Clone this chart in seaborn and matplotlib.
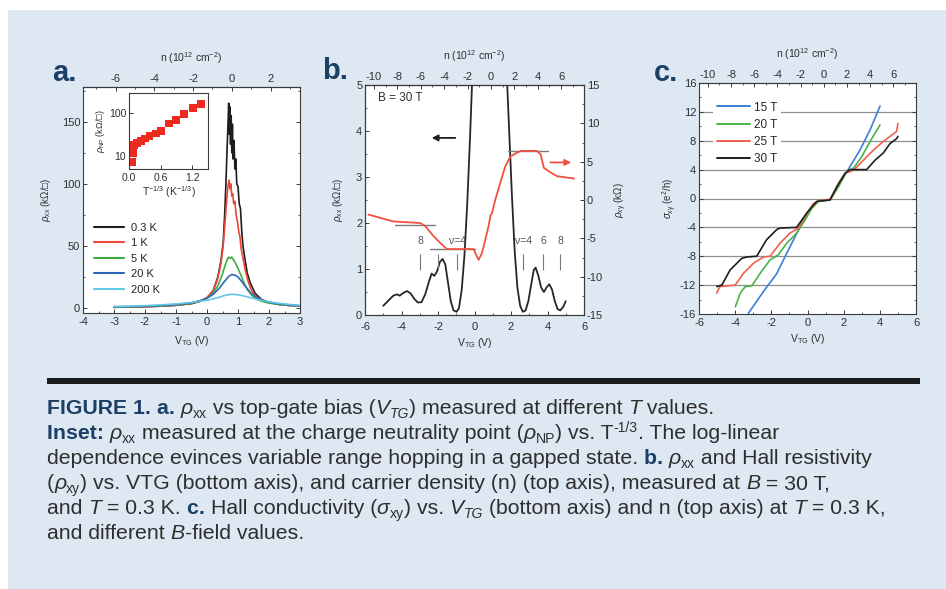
import numpy as np
import pandas as pd
import matplotlib
matplotlib.use("Agg")
import matplotlib.pyplot as plt
import seaborn as sns
from matplotlib.patches import Rectangle
from matplotlib.lines import Line2D
from matplotlib.ticker import MultipleLocator, FixedLocator
from matplotlib.font_manager import FontProperties

# ---------------- data ----------------
# (a) rho_xx (kOhm/sq) vs top-gate voltage at several temperatures
a_labels = ["0.3 K", "1 K", "5 K", "20 K", "200 K"]
a_v_03 = [-3.0, -2.5, -2.0, -1.5, -1.0, -0.5, -0.2, 0.0, 0.2, 0.35, 0.45, 0.52, 0.57, 0.61, 0.65, 0.68,
          0.70, 0.72, 0.74, 0.76, 0.78, 0.80, 0.82, 0.84, 0.87, 0.90, 0.93, 0.96, 1.00, 1.04, 1.08, 1.12,
          1.16, 1.22, 1.30, 1.40, 1.55, 1.75, 2.0, 2.3, 2.6, 3.0]
a_r_03 = [0.6, 0.8, 1.1, 1.5, 2.2, 3.5, 5.5, 8, 14, 25, 38, 52, 75, 100, 130, 150,
          165, 140, 162, 132, 155, 125, 148, 120, 135, 112, 120, 100, 98, 84, 80, 62,
          50, 40, 28, 20, 12, 7, 4.5, 3.0, 2.2, 1.6]
a_v_1 = [-3.0, -2.5, -2.0, -1.5, -1.0, -0.5, -0.2, 0.0, 0.2, 0.35, 0.45, 0.52, 0.58, 0.63, 0.67, 0.71,
         0.74, 0.77, 0.80, 0.83, 0.86, 0.90, 0.94, 0.98, 1.02, 1.06, 1.10, 1.16, 1.24, 1.32, 1.42, 1.55,
         1.75, 2.0, 2.3, 2.6, 3.0]
a_r_1 = [0.6, 0.8, 1.1, 1.5, 2.3, 3.8, 6, 8.5, 14, 24, 36, 50, 68, 85, 97, 103,
         96, 100, 90, 92, 84, 86, 75, 70, 62, 58, 48, 40, 30, 22, 15, 10,
         6.5, 4.5, 3.0, 2.2, 1.6]
a_v_5 = [-3.0, -2.5, -2.0, -1.5, -1.0, -0.5, -0.2, 0.0, 0.2, 0.35, 0.48, 0.58, 0.65, 0.70, 0.75, 0.80,
         0.85, 0.90, 1.0, 1.1, 1.2, 1.3, 1.45, 1.65, 1.9, 2.2, 2.6, 3.0]
a_r_5 = [0.8, 1.0, 1.3, 1.7, 2.5, 4.0, 6.0, 8.0, 12, 18, 26, 34, 39, 41, 40, 41,
         39, 37, 32, 26, 20, 15, 10, 6.5, 4.5, 3.2, 2.3, 1.7]
a_v_20 = [-3.0, -2.5, -2.0, -1.5, -1.0, -0.5, -0.2, 0.0, 0.2, 0.4, 0.55, 0.7, 0.8, 0.9, 1.0, 1.1,
          1.25, 1.4, 1.6, 1.8, 2.1, 2.5, 3.0]
a_r_20 = [1.0, 1.2, 1.5, 2.0, 2.8, 4.2, 6.0, 8.0, 11, 16, 21, 25.5, 27, 26.5, 25, 22,
          17, 12.5, 8.5, 6.0, 4.2, 2.8, 1.8]
a_v_200 = [-3.0, -2.5, -2.0, -1.5, -1.0, -0.5, 0.0, 0.3, 0.55, 0.75, 0.9, 1.1, 1.3, 1.6, 1.9, 2.2,
           2.6, 3.0]
a_r_200 = [1.2, 1.5, 1.9, 2.5, 3.3, 4.5, 6.3, 8.0, 10, 11, 11, 10.2, 9.0, 7.0, 5.5, 4.2,
           3.0, 2.2]

# inset: rho at the neutrality point vs T^(-1/3)
inset_x = [0.05, 0.07, 0.10, 0.15, 0.22, 0.30, 0.39, 0.51, 0.61, 0.76, 0.90, 1.04, 1.22, 1.37]
inset_y = [7.4, 11.9, 18, 20, 22.6, 25.6, 29, 33.3, 38.4, 56.8, 70, 96, 133, 164]

# (b) B = 30 T, rho_xx (left axis) and rho_xy (right axis)
b_v_xx_left = [-5.0, -4.7, -4.45, -4.25, -4.1, -3.9, -3.7, -3.5, -3.3, -3.1, -2.9, -2.7, -2.5, -2.35,
               -2.2, -2.05, -1.9, -1.75, -1.6, -1.45, -1.3, -1.15, -0.98, -0.85, -0.7, -0.55, -0.4,
               -0.25, -0.1]
b_r_xx_left = [0.2, 0.32, 0.42, 0.45, 0.42, 0.48, 0.52, 0.47, 0.35, 0.27, 0.28, 0.45, 0.72, 0.9,
               0.85, 0.95, 1.15, 1.22, 1.1, 0.7, 0.3, 0.1, 0.07, 0.15, 0.55, 1.3, 2.4,
               3.8, 5.4]
b_v_xx_right = [1.75, 1.9, 2.05, 2.2, 2.35, 2.5, 2.65, 2.8, 2.95, 3.1, 3.25, 3.35, 3.5, 3.65, 3.8,
                3.95, 4.1, 4.25, 4.4, 4.55, 4.7, 4.85, 5.0]
b_r_xx_right = [5.4, 4.0, 2.6, 1.4, 0.6, 0.2, 0.07, 0.1, 0.3, 0.65, 0.98, 1.03, 0.85, 0.6, 0.5,
                0.6, 0.67, 0.55, 0.3, 0.13, 0.1, 0.17, 0.3]
b_v_xy = [-5.82, -4.44, -2.98, -2.70, -2.25, -1.88, -1.51, -0.05, 0.14, 0.23, 0.41, 0.59, 0.77,
          0.88, 0.96, 1.14, 1.42, 1.69, 1.97, 2.52, 3.43, 3.62, 3.80, 4.16, 4.53, 5.45]
b_r_xy = [-1.9, -2.8, -3.0, -3.4, -4.7, -5.6, -6.4, -6.4, -7.4, -7.8, -6.9, -5.2, -3.4,
          -2.0, -1.7, 0.06, 2.3, 4.4, 5.7, 6.4, 6.4, 5.96, 4.2, 3.6, 3.1, 2.8]
# quantized Hall plateaus h/(nu e^2) in kOhm, with their V_TG spans
b_plateau_val = [-3.23, -6.45, 6.45]
b_plateau_v0 = [-4.35, -2.43, 1.86]
b_plateau_v1 = [-2.15, 0.04, 4.05]
# filling-factor markers
b_nu_v = [-2.98, -1.99, -0.95, 2.68, 3.78, 4.71]
b_nu_text = ["8", "ν=4", "ν=4", "6", "8"]
b_nu_text_v = [-2.98, -0.95, 2.68, 3.78, 4.71]

# (c) Hall conductivity (e^2/h) vs top-gate voltage at several fields
c_labels = ["15 T", "20 T", "25 T", "30 T"]
c_v_15 = [-3.27, -2.44, -1.70, -1.15, -0.41, 0.23, 0.69, 1.25, 1.62, 2.17, 2.90, 3.46, 4.01]
c_s_15 = [-15.9, -12.9, -10.4, -7.6, -3.9, -1.1, -0.3, -0.2, 1.6, 3.7, 6.7, 9.5, 12.8]
c_v_20 = [-3.99, -3.72, -3.44, -3.08, -2.63, -2.07, -1.61, -1.15, -0.60, -0.14, 0.23, 0.60, 1.25,
          1.71, 2.17, 2.54, 3.00, 3.46, 4.01]
c_s_20 = [-15.0, -13.1, -12.2, -12.1, -10.4, -8.5, -7.8, -6.2, -4.8, -3.0, -1.4, -0.4, -0.2,
          1.6, 3.7, 4.2, 5.8, 7.9, 10.2]
c_v_25 = [-5.02, -4.84, -4.00, -3.55, -3.00, -2.44, -2.07, -1.52, -0.97, -0.51, -0.14, 0.32, 0.69,
          1.25, 1.71, 2.08, 2.54, 3.09, 3.64, 4.19, 4.93, 5.00]
c_s_25 = [-13.1, -12.2, -12.0, -10.4, -9.0, -8.1, -8.0, -6.2, -4.8, -4.1, -2.5, -0.7, -0.3,
          -0.1, 2.1, 3.5, 3.9, 5.3, 6.7, 7.9, 9.3, 10.4]
c_v_30 = [-5.02, -4.74, -4.28, -3.64, -3.36, -2.81, -2.26, -1.70, -1.52, -0.60, -0.04, 0.51, 1.25,
          1.62, 2.08, 2.35, 3.27, 3.73, 4.19, 4.56, 4.93, 5.00]
c_s_30 = [-12.2, -12.0, -9.9, -8.3, -8.1, -8.0, -5.7, -4.3, -4.1, -4.0, -2.0, -0.4, -0.2,
          1.6, 3.5, 4.0, 4.0, 5.3, 6.3, 7.6, 8.3, 8.6]
c_plateaus = [-12, -8, -4, 0, 4, 8, 12]

# ---------------- style ----------------
sns.set_theme(style="ticks")
plt.rcParams["font.family"] = ["Liberation Sans", "DejaVu Sans"]
plt.rcParams["mathtext.fontset"] = "custom"
plt.rcParams["mathtext.rm"] = "Liberation Sans"
plt.rcParams["mathtext.it"] = "Liberation Sans:italic"
plt.rcParams["mathtext.bf"] = "Liberation Sans:bold"
plt.rcParams["axes.unicode_minus"] = False

W, H = 946, 589
BG = "#dde8f3"
FRAME = "#3a3a3a"
TXT = "#2e2e2e"
NAVY = "#1c3f66"
CAPTXT = "#2e2e2e"
TICK_FS = 8
LAB_FS = 7.5

a_colors = ["#1e1e1e", "#f0463a", "#3dab3f", "#2f68b8", "#62c6e6"]
c_colors = ["#3b7fd6", "#47b347", "#f0604f", "#1e1e1e"]


def fx(px):
    return px / W


def fy(py):
    return 1 - py / H


def box(l, t, r, b):
    return [fx(l), fy(b), fx(r) - fx(l), fy(t) - fy(b)]


def style_axes(ax):
    for s in ax.spines.values():
        s.set_color(FRAME)
        s.set_linewidth(0.8)
    ax.tick_params(which="major", direction="in", length=3, width=0.7, colors=FRAME,
                   labelcolor=TXT, labelsize=TICK_FS, pad=2)
    ax.tick_params(which="minor", direction="in", length=1.7, width=0.6, colors=FRAME)
    ax.tick_params(axis="x", which="major", pad=3)


def v2n(v):
    return 1.56 * (np.asarray(v) - 0.9)


def n2v(n):
    return np.asarray(n) / 1.56 + 0.9


def v2n_a(v):
    return 1.6 * (np.asarray(v) - 0.8)


def n2v_a(n):
    return np.asarray(n) / 1.6 + 0.8


def top_axis(ax, fwd, inv, ticks):
    sec = ax.secondary_xaxis("top", functions=(fwd, inv))
    sec.xaxis.set_major_locator(FixedLocator(ticks))
    sec.xaxis.set_minor_locator(MultipleLocator(1))
    sec.tick_params(which="major", direction="in", length=3, width=0.7, colors=FRAME,
                    labelcolor=TXT, labelsize=TICK_FS, pad=2)
    sec.tick_params(which="minor", direction="in", length=1.7, width=0.6, colors=FRAME)
    sec.spines["top"].set_color(FRAME)
    sec.spines["top"].set_linewidth(0.8)
    sec.set_xlabel(r"n (10$^{12}$ cm$^{-2}$)", fontsize=LAB_FS, color=TXT, labelpad=9)
    return sec


fig = plt.figure(figsize=(W / 100, H / 100), dpi=100, facecolor="white")
fig.patches.append(Rectangle((fx(8), 0), 1 - fx(8), fy(10), transform=fig.transFigure,
                             facecolor=BG, edgecolor="none", zorder=-10))

# ---------------- panel a ----------------
axa = fig.add_axes(box(83, 87, 300, 313))
df_a = pd.concat([
    pd.DataFrame({"V": v, "rho": r, "T": lab})
    for v, r, lab in zip([a_v_03, a_v_1, a_v_5, a_v_20, a_v_200],
                         [a_r_03, a_r_1, a_r_5, a_r_20, a_r_200], a_labels)
])
sns.lineplot(data=df_a, x="V", y="rho", hue="T", hue_order=a_labels, palette=a_colors,
             estimator=None, sort=False, linewidth=1.2, legend=False, ax=axa)
axa.set_xlim(-4, 3)
axa.set_ylim(-4, 178)
axa.xaxis.set_major_locator(MultipleLocator(1))
axa.xaxis.set_minor_locator(MultipleLocator(0.5))
axa.yaxis.set_major_locator(FixedLocator([0, 50, 100, 150]))
axa.yaxis.set_minor_locator(MultipleLocator(25))
axa.tick_params(right=True, which="both")
style_axes(axa)
axa.set_xlabel(r"V$_{\mathrm{TG}}$ (V)", fontsize=LAB_FS, color=TXT, labelpad=5)
axa.set_ylabel(r"$\rho_{\mathrm{xx}}$ (kΩ/□)", fontsize=7, color=TXT, labelpad=6)
top_axis(axa, v2n_a, n2v_a, [-6, -4, -2, 0, 2])
handles_a = [Line2D([], [], color=c, lw=1.5) for c in a_colors]
axa.legend(handles_a, a_labels, loc="upper left", bbox_to_anchor=(0.035, 0.415), frameon=False,
           fontsize=8, handlelength=2.7, handletextpad=0.6, labelspacing=0.5,
           borderaxespad=0, borderpad=0.3)

# inset
axi = fig.add_axes(box(129, 93, 208, 169))
df_i = pd.DataFrame({"x": inset_x, "y": inset_y})
sns.scatterplot(data=df_i, x="x", y="y", marker="s", s=32, color="#ee2a1e", edgecolor="none",
                ax=axi, legend=False)
axi.set_yscale("log")
axi.set_xlim(0.0, 1.5)
axi.set_ylim(5, 290)
axi.xaxis.set_major_locator(FixedLocator([0.0, 0.6, 1.2]))
axi.xaxis.set_major_formatter(plt.FuncFormatter(lambda v, p: f"{v:.1f}"))
axi.yaxis.set_major_locator(FixedLocator([10, 100]))
axi.yaxis.set_major_formatter(plt.FuncFormatter(lambda v, p: f"{v:.0f}"))
axi.yaxis.set_minor_locator(plt.NullLocator())
style_axes(axi)
axi.tick_params(labelsize=7.5)
axi.set_xlabel(r"T$^{-1/3}$ (K$^{-1/3}$)", fontsize=7.5, color=TXT, labelpad=1)
axi.set_ylabel(r"$\rho_{\mathrm{NP}}$ (kΩ/□)", fontsize=6.5, color=TXT, labelpad=1)

# ---------------- panel b ----------------
axb = fig.add_axes(box(365, 85, 584, 315))
df_bxx = pd.concat([
    pd.DataFrame({"V": b_v_xx_left, "rho": b_r_xx_left, "seg": 0}),
    pd.DataFrame({"V": b_v_xx_right, "rho": b_r_xx_right, "seg": 1}),
])
sns.lineplot(data=df_bxx, x="V", y="rho", units="seg", estimator=None, sort=False,
             color="#262626", linewidth=1.3, ax=axb)
axb.set_xlim(-6, 6)
axb.set_ylim(0, 5)
axb.xaxis.set_major_locator(MultipleLocator(2))
axb.xaxis.set_minor_locator(MultipleLocator(1))
axb.yaxis.set_major_locator(MultipleLocator(1))
axb.yaxis.set_minor_locator(MultipleLocator(0.5))
style_axes(axb)
axb.tick_params(axis="x", which="major", pad=5)
axb.set_xlabel(r"V$_{\mathrm{TG}}$ (V)", fontsize=LAB_FS, color=TXT, labelpad=3)
axb.set_ylabel(r"$\rho_{\mathrm{xx}}$ (kΩ/□)", fontsize=7, color=TXT, labelpad=8)
top_axis(axb, v2n, n2v, [-10, -8, -6, -4, -2, 0, 2, 4, 6])
axb.text(-5.3, 4.72, "B = 30 T", fontsize=8.5, color=TXT, va="center")
axb.annotate("", xy=(-2.5, 3.85), xytext=(-0.9, 3.85),
             arrowprops=dict(arrowstyle="-|>", color="#1e1e1e", lw=1.3, mutation_scale=9))
axb.vlines(b_nu_v, 0.98, 1.32, color="#7a7a7a", lw=0.8)
for v, t in zip(b_nu_text_v, b_nu_text):
    axb.text(v, 1.6, t, fontsize=7.5, color="#555555", ha="center", va="center")

axb2 = axb.twinx()
for v0, v1, val in zip(b_plateau_v0, b_plateau_v1, b_plateau_val):
    axb2.plot([v0, v1], [val, val], color="#7a7a7a", lw=1.0, zorder=1)
df_bxy = pd.DataFrame({"V": b_v_xy, "rho": b_r_xy})
sns.lineplot(data=df_bxy, x="V", y="rho", estimator=None, sort=False, color="#f2503f",
             linewidth=1.3, ax=axb2, zorder=3)
axb2.set_ylim(-15, 15)
axb2.yaxis.set_major_locator(MultipleLocator(5))
axb2.yaxis.set_minor_locator(MultipleLocator(2.5))
style_axes(axb2)
axb2.set_ylabel(r"$\rho_{\mathrm{xy}}$ (kΩ)", fontsize=7, color=TXT, labelpad=7)
axb2.annotate("", xy=(5.45, 4.9), xytext=(4.0, 4.9),
              arrowprops=dict(arrowstyle="-|>", color="#f2503f", lw=1.3, mutation_scale=9))

# ---------------- panel c ----------------
axc = fig.add_axes(box(699, 83, 916, 314))
for p in c_plateaus:
    axc.axhline(p, color="#8e8e8e", lw=0.9, zorder=0.5)
df_c = pd.concat([
    pd.DataFrame({"V": v, "sigma": s, "B": lab})
    for v, s, lab in zip([c_v_15, c_v_20, c_v_25, c_v_30],
                         [c_s_15, c_s_20, c_s_25, c_s_30], c_labels)
])
sns.lineplot(data=df_c, x="V", y="sigma", hue="B", hue_order=c_labels, palette=c_colors,
             estimator=None, sort=False, linewidth=1.2, legend=False, ax=axc, zorder=3)
axc.set_xlim(-6, 6)
axc.set_ylim(-16, 16)
axc.xaxis.set_major_locator(MultipleLocator(2))
axc.xaxis.set_minor_locator(MultipleLocator(1))
axc.yaxis.set_major_locator(MultipleLocator(4))
axc.yaxis.set_minor_locator(MultipleLocator(2))
axc.tick_params(right=True, which="both")
style_axes(axc)
axc.set_xlabel(r"V$_{\mathrm{TG}}$ (V)", fontsize=LAB_FS, color=TXT, labelpad=3)
axc.set_ylabel(r"$\sigma_{\mathrm{xy}}$ (e$^2$/h)", fontsize=7, color=TXT, labelpad=1)
top_axis(axc, v2n, n2v, [-10, -8, -6, -4, -2, 0, 2, 4, 6])
handles_c = [Line2D([], [], color=c, lw=1.4) for c in c_colors]
leg_c = axc.legend(handles_c, c_labels, loc="upper left", bbox_to_anchor=(0.065, 0.935),
                   frameon=True, facecolor="white", edgecolor="none", framealpha=1,
                   fontsize=8.5, handlelength=2.8, handletextpad=0.4, labelspacing=0.45,
                   borderaxespad=0, borderpad=0.3)
leg_c.set_zorder(2)

# panel letters
for letter, x, y in [("a.", 52, 81), ("b.", 322, 79), ("c.", 654, 81)]:
    fig.text(fx(x), fy(y), letter, fontsize=21, fontweight="bold", color=NAVY,
             ha="left", va="baseline")

# separator bar
fig.patches.append(Rectangle((fx(47), fy(384)), fx(920) - fx(47), fy(378) - fy(384),
                             transform=fig.transFigure, facecolor="#1b1b1b",
                             edgecolor="none"))

# ---------------- caption ----------------
CAP_FS = 15.3
cap_lines = [
    [("FIGURE 1. ", "b"), ("a. ", "b"), ("ρ", "i"), ("xx", "s"), (" vs top-gate bias (", "r"),
     ("V", "i"), ("TG", "si"), (") measured at different ", "r"), ("T", "i"), (" values.", "r")],
    [("Inset: ", "b"), ("ρ", "i"), ("xx", "s"),
     (" measured at the charge neutrality point (", "r"), ("ρ", "i"), ("NP", "s"),
     (") vs. T", "r"), ("-1/3", "p"), (". The log-linear", "r")],
    [("dependence evinces variable range hopping in a gapped state. ", "r"), ("b. ", "b"),
     ("ρ", "i"), ("xx", "s"), (" and Hall resistivity", "r")],
    [("(", "r"), ("ρ", "i"), ("xy", "s"),
     (") vs. VTG (bottom axis), and carrier density (n) (top axis), measured at ", "r"),
     ("B", "i"), (" = 30 T,", "r")],
    [("and ", "r"), ("T", "i"), (" = 0.3 K. ", "r"), ("c. ", "b"), ("Hall conductivity (", "r"),
     ("σ", "i"), ("xy", "s"), (") vs. ", "r"), ("V", "i"), ("TG", "si"),
     (" (bottom axis) and n (top axis) at ", "r"), ("T", "i"), (" = 0.3 K,", "r")],
    [("and different ", "r"), ("B", "i"), ("-field values.", "r")],
]
cap_baselines = [414, 439, 464, 489, 514, 539]

renderer = fig.canvas.get_renderer()


def run_props(kind):
    size = CAP_FS
    dy = 0.0
    color = CAPTXT
    weight = "normal"
    style = "normal"
    if kind == "b":
        weight = "bold"
        color = NAVY
    elif kind == "i":
        style = "italic"
    elif kind in ("s", "si"):
        size = CAP_FS * 0.66
        dy = 4.0
        if kind == "si":
            style = "italic"
    elif kind == "p":
        size = CAP_FS * 0.66
        dy = -7.5
    prop = FontProperties(family=["Liberation Sans", "DejaVu Sans"], size=size,
                          weight=weight, style=style)
    return prop, dy, color


def advance(s, prop):
    w1 = renderer.get_text_width_height_descent(s + "|", prop, ismath=False)[0]
    w2 = renderer.get_text_width_height_descent("|", prop, ismath=False)[0]
    return w1 - w2


for runs, base in zip(cap_lines, cap_baselines):
    x = 47.0
    for s, kind in runs:
        prop, dy, color = run_props(kind)
        fig.text(fx(x), fy(base + dy), s, fontproperties=prop, color=color,
                 ha="left", va="baseline")
        x += advance(s, prop)

fig.savefig("out.png", dpi=100, facecolor=fig.get_facecolor())
